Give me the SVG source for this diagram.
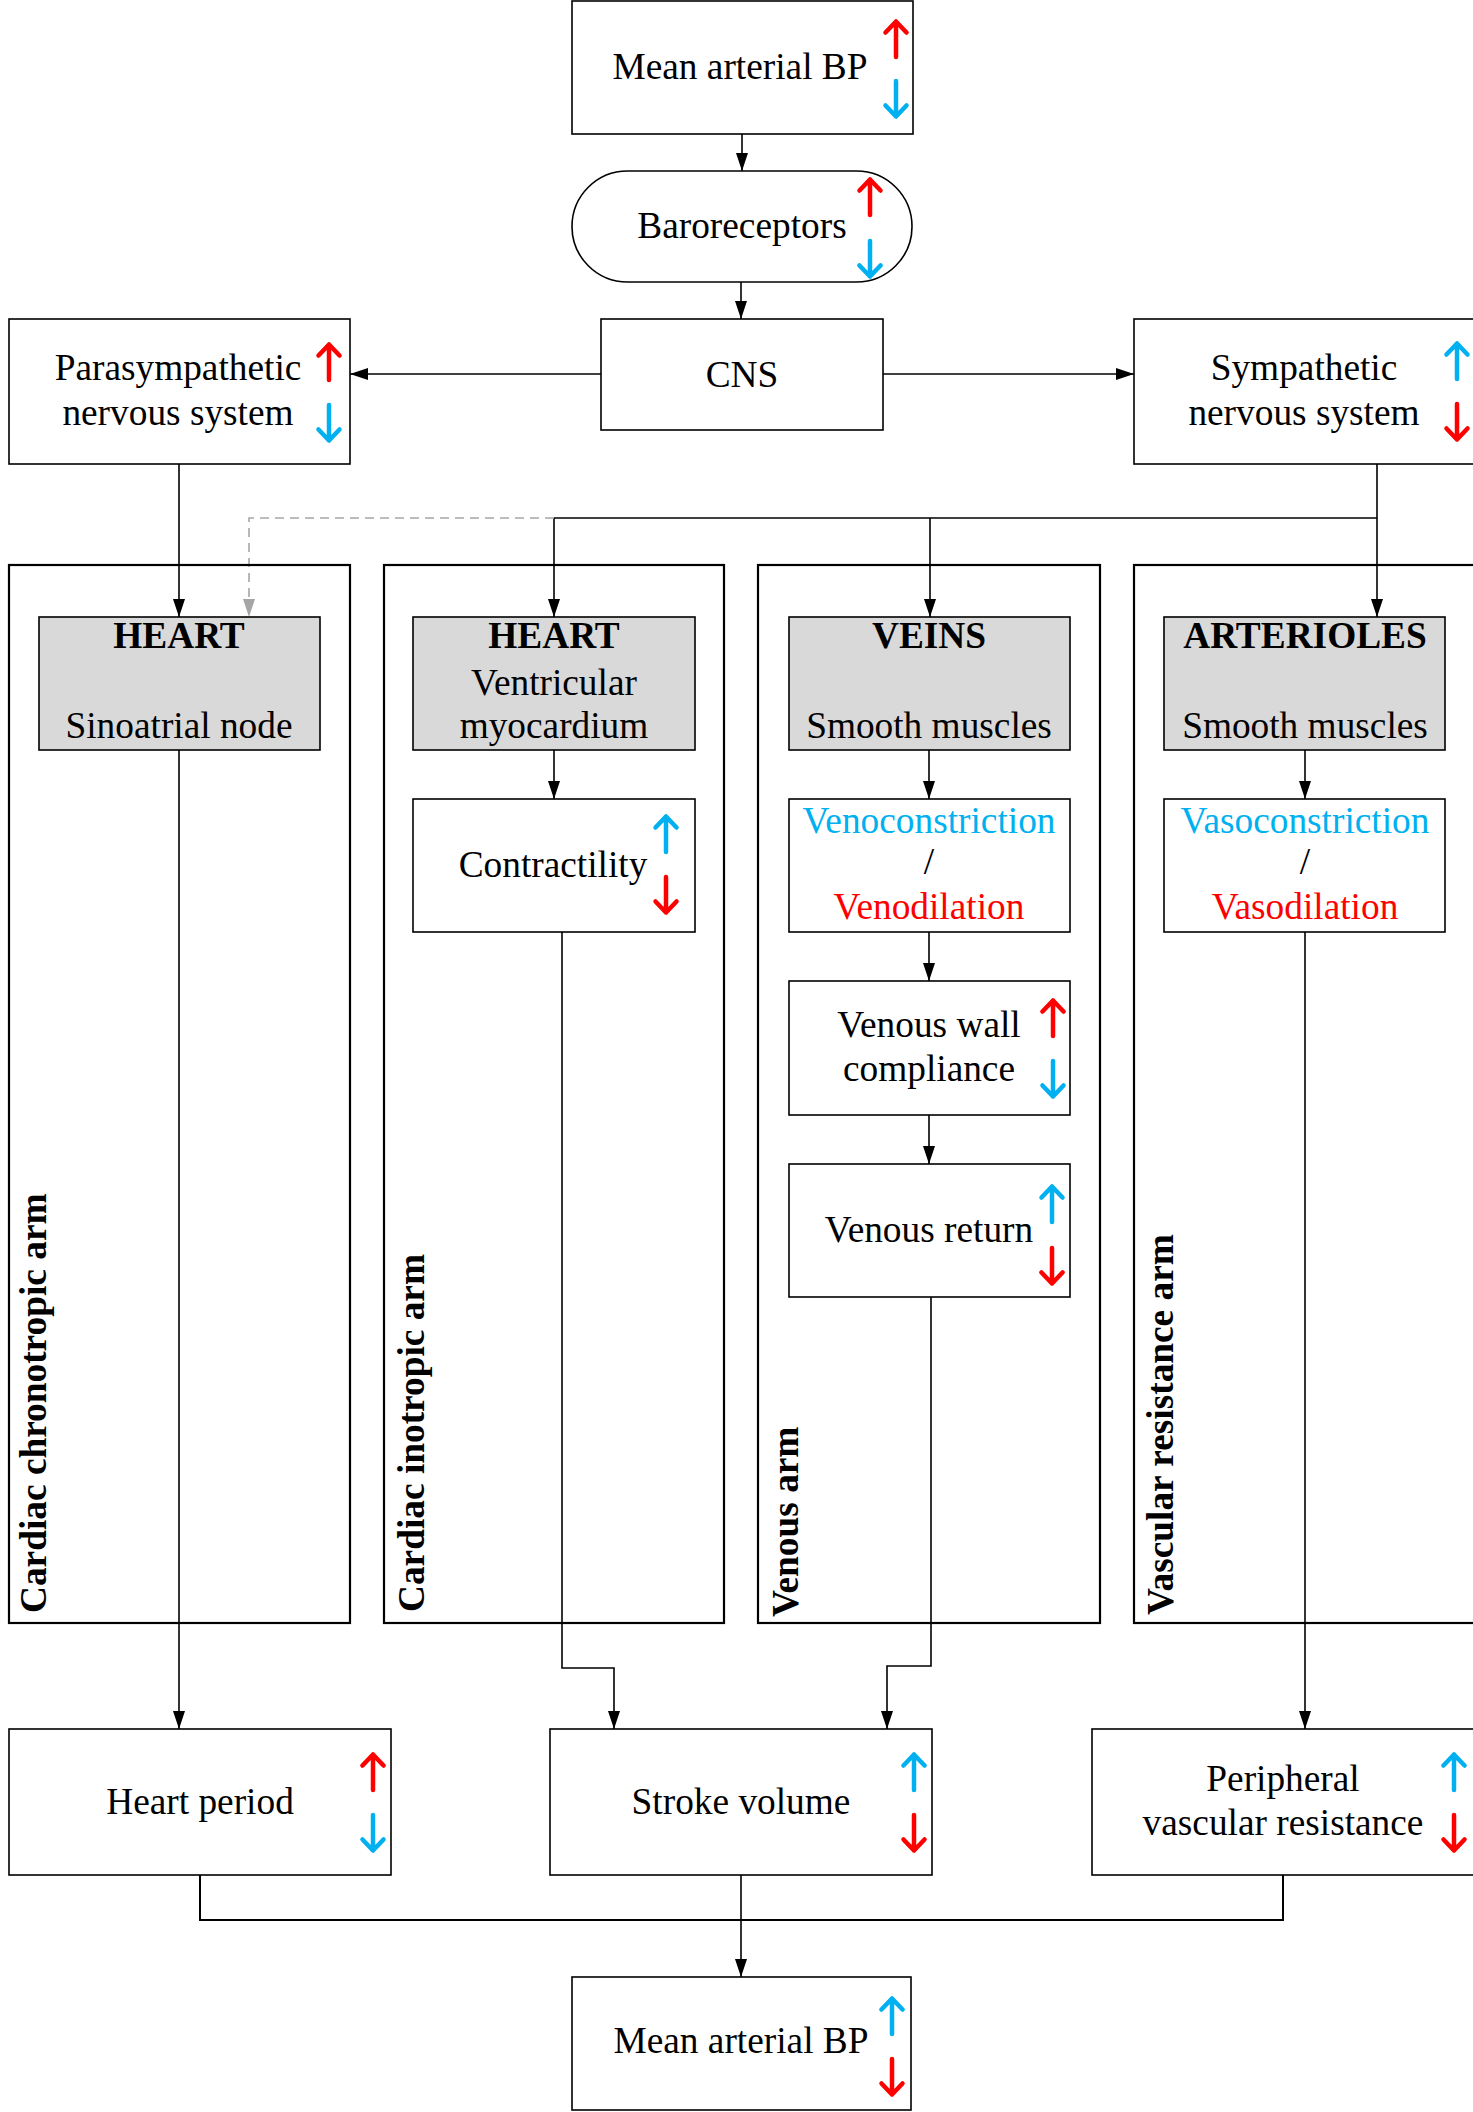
<svg xmlns="http://www.w3.org/2000/svg" xmlns:xlink="http://www.w3.org/1999/xlink" width="1473" height="2112" viewBox="0 0 1473 2112">
<style>
  text { font-family: "Liberation Serif", "Times New Roman", serif; font-size: 37.33px; fill: #000; }
  .c { text-anchor: middle; }
  .b { font-weight: bold; }
  .lane { font-weight: bold; font-size: 37.33px; }
  .box { fill: #fff; stroke: #000; stroke-width: 1.6; }
  .gbox { fill: #d9d9d9; stroke: #000; stroke-width: 1.6; }
  .lanebox { fill: none; stroke: #000; stroke-width: 2.2; }
  .con { fill: none; stroke: #000; stroke-width: 1.6; }
  .dash { fill: none; stroke: #a6a6a6; stroke-width: 1.6; stroke-dasharray: 9 6; }
  .blue { fill: #00b0f0; }
  .red { fill: #ff0000; }
</style>
<defs>
  <marker id="ah" viewBox="0 0 18 12" refX="18" refY="6" markerWidth="18" markerHeight="12" markerUnits="userSpaceOnUse" orient="auto">
    <path d="M0,0 L18,6 L0,12 z" fill="#000"/>
  </marker>
  <marker id="ahg" viewBox="0 0 18 12" refX="18" refY="6" markerWidth="18" markerHeight="12" markerUnits="userSpaceOnUse" orient="auto">
    <path d="M0,0 L18,6 L0,12 z" fill="#a6a6a6"/>
  </marker>
  <path id="up" d="M0,37 V1.5 M-10.5,12.5 L0,1.5 L10.5,12.5" fill="none" stroke-width="4.5" stroke-linecap="round" stroke-linejoin="round"/>
  <path id="dn" d="M0,0 V35.5 M-10.5,24.5 L0,35.5 L10.5,24.5" fill="none" stroke-width="4.5" stroke-linecap="round" stroke-linejoin="round"/>
</defs>

<g id="connectors">
  <path class="con" d="M742,134 V171" marker-end="url(#ah)"/>
  <path class="con" d="M741,282 V319" marker-end="url(#ah)"/>
  <path class="con" d="M601,374 H350" marker-end="url(#ah)"/>
  <path class="con" d="M883,374 H1134" marker-end="url(#ah)"/>
  <path class="con" d="M179,464 V617" marker-end="url(#ah)"/>
  <path class="con" d="M1377,464 V617" marker-end="url(#ah)"/>
  <path class="con" d="M554,518 H1377"/>
  <path class="con" d="M554,518 V617" marker-end="url(#ah)"/>
  <path class="con" d="M930,518 V617" marker-end="url(#ah)"/>
  <path class="dash" d="M554,518 H249 V617" marker-end="url(#ahg)"/>
  <path class="con" d="M179,750 V1729" marker-end="url(#ah)"/>
  <path class="con" d="M554,750 V799" marker-end="url(#ah)"/>
  <path class="con" d="M562,932 V1668 H614 V1729" marker-end="url(#ah)"/>
  <path class="con" d="M929,750 V799" marker-end="url(#ah)"/>
  <path class="con" d="M929,932 V981" marker-end="url(#ah)"/>
  <path class="con" d="M929,1115 V1164" marker-end="url(#ah)"/>
  <path class="con" d="M931,1297 V1666 H887 V1729" marker-end="url(#ah)"/>
  <path class="con" d="M1305,750 V799" marker-end="url(#ah)"/>
  <path class="con" d="M1305,932 V1729" marker-end="url(#ah)"/>
  <path class="con" d="M200,1875 V1920 H1283 V1875" style="stroke-width:2"/>
  <path class="con" d="M741,1875 V1977" marker-end="url(#ah)"/>
</g>

<g id="lanes">
  <g id="lane-chronotropic">
    <rect class="lanebox" x="9" y="565" width="341" height="1058"/>
    <text class="lane" transform="translate(46,1613) rotate(-90)">Cardiac chronotropic arm</text>
  </g>
  <g id="lane-inotropic">
    <rect class="lanebox" x="384" y="565" width="340" height="1058"/>
    <text class="lane" transform="translate(424,1612) rotate(-90)">Cardiac inotropic arm</text>
  </g>
  <g id="lane-venous">
    <rect class="lanebox" x="758" y="565" width="342" height="1058"/>
    <text class="lane" transform="translate(798,1617) rotate(-90)">Venous arm</text>
  </g>
  <g id="lane-vascular">
    <rect class="lanebox" x="1134" y="565" width="400" height="1058"/>
    <text class="lane" transform="translate(1173,1615) rotate(-90)">Vascular resistance arm</text>
  </g>
</g>

<g id="map-top">
  <rect class="box" x="572" y="1" width="341" height="133"/>
  <text class="c" x="740" y="79">Mean arterial BP</text>
  <use href="#up" x="896" y="20" stroke="#ff0000"/>
  <use href="#dn" x="896" y="81" stroke="#00b0f0"/>
</g>

<g id="baroreceptors">
  <rect class="box" x="572" y="171" width="340" height="111" rx="55.5" ry="55.5"/>
  <text class="c" x="742" y="238">Baroreceptors</text>
  <use href="#up" x="870" y="178" stroke="#ff0000"/>
  <use href="#dn" x="870" y="241" stroke="#00b0f0"/>
</g>

<g id="cns">
  <rect class="box" x="601" y="319" width="282" height="111"/>
  <text class="c" x="742" y="387">CNS</text>
</g>

<g id="parasympathetic">
  <rect class="box" x="9" y="319" width="341" height="145"/>
  <text class="c" x="178" y="380">Parasympathetic</text>
  <text class="c" x="178" y="425">nervous system</text>
  <use href="#up" x="329" y="343" stroke="#ff0000"/>
  <use href="#dn" x="329" y="405" stroke="#00b0f0"/>
</g>

<g id="sympathetic">
  <rect class="box" x="1134" y="319" width="400" height="145"/>
  <text class="c" x="1304" y="380">Sympathetic</text>
  <text class="c" x="1304" y="425">nervous system</text>
  <use href="#up" x="1457" y="342" stroke="#00b0f0"/>
  <use href="#dn" x="1457" y="404" stroke="#ff0000"/>
</g>

<g id="heart-sa">
  <rect class="gbox" x="39" y="617" width="281" height="133"/>
  <text class="c b" x="179" y="648">HEART</text>
  <text class="c" x="179" y="738">Sinoatrial node</text>
</g>

<g id="heart-vm">
  <rect class="gbox" x="413" y="617" width="282" height="133"/>
  <text class="c b" x="554" y="648">HEART</text>
  <text class="c" x="554" y="695">Ventricular</text>
  <text class="c" x="554" y="738">myocardium</text>
</g>

<g id="veins">
  <rect class="gbox" x="789" y="617" width="281" height="133"/>
  <text class="c b" x="929" y="648">VEINS</text>
  <text class="c" x="929" y="738">Smooth muscles</text>
</g>

<g id="arterioles">
  <rect class="gbox" x="1164" y="617" width="281" height="133"/>
  <text class="c b" x="1305" y="648">ARTERIOLES</text>
  <text class="c" x="1305" y="738">Smooth muscles</text>
</g>

<g id="contractility">
  <rect class="box" x="413" y="799" width="282" height="133"/>
  <text class="c" x="553" y="877">Contractility</text>
  <use href="#up" x="666" y="815" stroke="#00b0f0"/>
  <use href="#dn" x="666" y="877" stroke="#ff0000"/>
</g>

<g id="veno">
  <rect class="box" x="789" y="799" width="281" height="133"/>
  <text class="c blue" x="929" y="833">Venoconstriction</text>
  <text class="c" x="929" y="874">/</text>
  <text class="c red" x="929" y="919">Venodilation</text>
</g>

<g id="vaso">
  <rect class="box" x="1164" y="799" width="281" height="133"/>
  <text class="c blue" x="1305" y="833">Vasoconstriction</text>
  <text class="c" x="1305" y="874">/</text>
  <text class="c red" x="1305" y="919">Vasodilation</text>
</g>

<g id="venous-wall">
  <rect class="box" x="789" y="981" width="281" height="134"/>
  <text class="c" x="929" y="1037">Venous wall</text>
  <text class="c" x="929" y="1081">compliance</text>
  <use href="#up" x="1053" y="999" stroke="#ff0000"/>
  <use href="#dn" x="1053" y="1061" stroke="#00b0f0"/>
</g>

<g id="venous-return">
  <rect class="box" x="789" y="1164" width="281" height="133"/>
  <text class="c" x="929" y="1242">Venous return</text>
  <use href="#up" x="1052" y="1185" stroke="#00b0f0"/>
  <use href="#dn" x="1052" y="1248" stroke="#ff0000"/>
</g>

<g id="heart-period">
  <rect class="box" x="9" y="1729" width="382" height="146"/>
  <text class="c" x="200" y="1814">Heart period</text>
  <use href="#up" x="373" y="1753" stroke="#ff0000"/>
  <use href="#dn" x="373" y="1815" stroke="#00b0f0"/>
</g>

<g id="stroke-volume">
  <rect class="box" x="550" y="1729" width="382" height="146"/>
  <text class="c" x="741" y="1814">Stroke volume</text>
  <use href="#up" x="914" y="1753" stroke="#00b0f0"/>
  <use href="#dn" x="914" y="1815" stroke="#ff0000"/>
</g>

<g id="pvr">
  <rect class="box" x="1092" y="1729" width="450" height="146"/>
  <text class="c" x="1283" y="1791">Peripheral</text>
  <text class="c" x="1283" y="1835">vascular resistance</text>
  <use href="#up" x="1454" y="1753" stroke="#00b0f0"/>
  <use href="#dn" x="1454" y="1815" stroke="#ff0000"/>
</g>

<g id="map-bottom">
  <rect class="box" x="572" y="1977" width="339" height="133"/>
  <text class="c" x="741" y="2053">Mean arterial BP</text>
  <use href="#up" x="892" y="1997" stroke="#00b0f0"/>
  <use href="#dn" x="892" y="2059" stroke="#ff0000"/>
</g>
</svg>
